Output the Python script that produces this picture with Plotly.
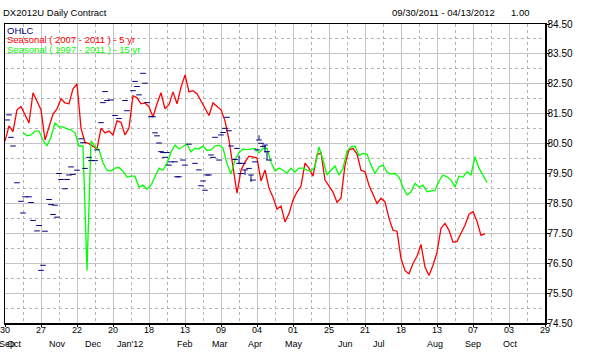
import plotly.graph_objects as go

# ---------------- text ----------------
title_left = "DX2012U Daily Contract"
title_range = "09/30/2011 - 04/13/2012"
title_scale = "1.00"
legend_texts = ["OHLC", "Seasonal ( 2007 - 2011 ) - 5 yr", "Seasonal ( 1997 - 2011 ) - 15 yr"]
legend_colors = ["#000080", "#FF0000", "#00FF00"]

# ---------------- axes ----------------
x_tick_bars = list(range(0, 271, 18))
x_tick_days = ["30", "27", "22", "20", "18", "13", "09", "04", "01",
               "25", "21", "18", "13", "07", "03", "29"]
month_labels = ["Sep", "Oct", "Nov", "Dec", "Jan'12", "Feb", "Mar", "Apr", "May",
                "Jun", "Jul", "Aug", "Sep", "Oct"]
month_bars = [1.0, 4.5, 26, 44, 62.5, 90, 107.5, 125, 144.5, 170, 187, 215, 234, 252.5]
y_ticks = [74.5, 75.5, 76.5, 77.5, 78.5, 79.5, 80.5, 81.5, 82.5, 83.5, 84.5]

# ---------------- seasonal 5 yr (every 2nd trading bar from bar 0) ----------------
red_bars = list(range(0, 241, 2))
red_vals = [80.58, 81.09, 80.90, 81.63, 81.74, 81.46, 81.19, 82.20, 81.91, 81.63,
            80.62, 81.09, 81.49, 81.66, 82.00, 81.86, 81.83, 82.33, 82.50, 81.02,
            80.54, 80.50, 80.40, 80.32, 81.02, 80.86, 80.92, 80.79, 81.26, 81.21,
            80.79, 81.02, 82.10, 82.03, 81.83, 81.86, 81.73, 81.39, 81.83, 82.20,
            81.66, 81.80, 82.23, 81.83, 82.38, 82.80, 82.23, 82.27, 82.17, 81.93,
            81.66, 81.44, 81.86, 81.74, 81.63, 81.26, 80.62, 79.72, 78.84, 79.61,
            79.88, 80.08, 80.05, 80.02, 79.25, 79.62, 79.01, 78.71, 78.31, 78.41,
            77.88, 78.16, 78.61, 78.88, 79.08, 79.85, 79.68, 79.41, 80.12, 80.19,
            79.28, 79.08, 78.88, 78.54, 78.68, 79.78, 80.29, 80.34, 80.15, 79.61,
            79.56, 79.11, 78.81, 78.50, 78.67, 78.55, 78.00, 77.60, 77.57, 76.66,
            76.25, 76.15, 76.49, 76.73, 77.13, 76.37, 76.09, 76.43, 76.86, 77.67,
            77.83, 77.60, 77.20, 77.23, 77.50, 77.77, 78.14, 78.22, 77.90, 77.43,
            77.49]

# ---------------- seasonal 15 yr (every 2nd trading bar from bar 9) ----------------
green_bars = list(range(9, 242, 2))
green_vals = [80.87, 80.76, 80.79, 80.92, 80.92, 80.62, 80.42, 80.72, 81.19, 81.06,
              81.06, 80.99, 80.96, 80.86, 80.42, 80.42, 76.26, 80.59, 80.40, 80.29,
              79.85, 79.61, 79.58, 79.68, 79.70, 79.58, 79.38, 79.41, 79.41, 79.04,
              79.11, 78.98, 79.11, 79.38, 79.68, 79.61, 79.85, 80.22, 80.45, 80.32,
              80.42, 80.49, 80.22, 80.35, 80.32, 80.42, 80.27, 80.29, 80.42, 80.45,
              80.35, 79.83, 79.48, 79.95, 80.20, 80.32, 80.30, 80.32, 80.34, 80.19,
              80.34, 80.35, 79.88, 79.58, 79.68, 79.61, 79.51, 79.68, 79.55, 79.68,
              79.68, 79.61, 79.58, 79.73, 80.39, 79.95, 79.45, 79.61, 79.75, 79.45,
              79.67, 80.25, 80.39, 80.42, 80.10, 80.17, 80.15, 79.78, 79.50, 79.72,
              79.78, 79.55, 79.48, 79.50, 79.38, 79.05, 78.78, 78.89, 79.17, 79.04,
              79.11, 78.89, 78.91, 78.94, 79.25, 79.45, 79.39, 79.28, 79.05, 79.41,
              79.38, 79.56, 79.45, 80.06, 79.68, 79.45, 79.20]

# ---------------- OHLC (contract prices; most days a single price) ----------------
ohlc_bar = [1, 2, 3, 4, 6, 8, 9, 10, 12, 13, 14, 16, 17, 18, 19, 20, 22, 23, 24, 25,
            26, 27, 28, 30, 31, 32, 33, 34, 36, 38, 39, 40, 42, 43, 45, 46, 48, 49, 50, 51,
            53, 55, 57, 60, 61, 64, 65, 66, 67, 69, 70, 71, 73, 74, 75, 76, 77, 78, 79, 80,
            81, 82, 83, 85, 86, 87, 89, 90, 92, 95, 97, 98, 99, 100, 101, 102, 103, 104, 105, 107,
            108, 109, 110, 111, 112, 113, 115, 116, 117, 118, 119, 120, 122, 123, 124, 125, 126, 127, 128, 129,
            130, 131, 132]
ohlc_close = [81.29, 81.46, 80.71, 80.42, 79.19, 78.57, 78.18, 78.72, 78.72, 78.53,
              77.93, 77.58, 77.76, 76.26, 76.43, 77.57, 78.63, 78.46, 78.13, 78.44,
              78.04, 79.50, 79.30, 78.99, 79.30, 79.45, 79.72, 79.47, 79.61, 80.66,
              80.53, 79.67, 80.04, 79.93, 79.93, 80.29, 81.20, 81.87, 82.24, 81.94,
              81.96, 81.44, 81.34, 81.94, 81.60, 82.27, 82.58, 82.41, 82.13, 82.85,
              82.52, 81.87, 81.40, 81.40, 80.86, 80.76, 80.52, 80.23, 80.20, 80.04,
              80.20, 79.78, 79.89, 79.89, 79.39, 79.39, 79.95, 79.78, 80.48, 79.84,
              79.62, 79.09, 79.25, 78.94, 79.45, 79.45, 80.12, 80.04, 80.71, 79.95,
              80.79, 80.87, 81.01, 81.38, 80.93, 80.42, 79.97, 80.34, 79.84, 79.50,
              79.84, 79.62, 79.67, 79.45, 79.28, 79.89, 80.29, 80.62, 80.51, 80.40,
              80.45, 80.23, 79.95]
ohlc_high = [81.29, 81.46, 80.71, 80.42, 79.19, 78.57, 78.18, 78.72, 78.72, 78.53,
             77.93, 77.58, 77.76, 76.26, 76.43, 77.57, 78.63, 78.46, 78.13, 78.44,
             78.04, 79.50, 79.30, 78.99, 79.30, 79.45, 79.72, 79.47, 79.61, 80.66,
             80.53, 79.67, 80.04, 79.93, 79.93, 80.29, 81.20, 81.87, 82.24, 81.94,
             81.96, 81.44, 81.34, 81.94, 81.60, 82.27, 82.58, 82.41, 82.13, 82.85,
             82.52, 81.87, 81.40, 81.40, 80.86, 80.76, 80.52, 80.23, 80.20, 80.04,
             80.20, 79.78, 79.89, 79.89, 79.39, 79.39, 79.95, 79.78, 80.48, 79.84,
             79.62, 79.09, 79.25, 78.94, 79.45, 79.45, 80.12, 80.04, 80.71, 79.95,
             80.79, 80.87, 81.01, 81.38, 80.93, 80.42, 79.97, 80.34, 80.10, 79.50,
             79.84, 79.62, 79.67, 79.45, 79.28, 79.89, 80.29, 80.78, 80.51, 80.40,
             80.45, 80.23, 79.95]
ohlc_low = [81.29, 81.46, 80.71, 80.42, 79.19, 78.57, 78.18, 78.72, 78.72, 78.53,
            77.93, 77.58, 77.76, 76.26, 76.43, 77.57, 78.63, 78.46, 78.13, 78.44,
            78.04, 79.50, 79.30, 78.99, 79.30, 79.45, 79.72, 79.47, 79.61, 80.66,
            80.53, 79.67, 80.04, 79.93, 79.93, 80.29, 81.20, 81.87, 82.24, 81.94,
            81.96, 81.44, 81.34, 81.94, 81.60, 82.27, 82.58, 82.41, 82.13, 82.85,
            82.52, 81.87, 81.40, 81.40, 80.86, 80.76, 80.52, 80.23, 80.20, 80.04,
            80.20, 79.78, 79.89, 79.89, 79.39, 79.39, 79.95, 79.78, 80.48, 79.84,
            79.62, 79.09, 79.25, 78.94, 79.45, 79.45, 80.12, 80.04, 80.71, 79.95,
            80.79, 80.87, 81.01, 81.38, 80.93, 80.42, 79.97, 80.34, 79.84, 79.50,
            79.84, 79.45, 79.67, 79.22, 79.28, 79.89, 80.29, 80.62, 80.51, 80.40,
            80.20, 79.95, 79.95]

FONT = "Liberation Sans, Arial, sans-serif"
NAVY = "#000080"

fig = go.Figure()
fig.add_trace(go.Scatter(x=red_bars, y=red_vals, mode="lines",
                         line=dict(color="#FF0000", width=1.3), showlegend=False,
                         name=legend_texts[1]))
fig.add_trace(go.Scatter(x=green_bars, y=green_vals, mode="lines",
                         line=dict(color="#00FF00", width=1.3), showlegend=False,
                         name=legend_texts[2]))
# OHLC bars: close tick as a short horizontal dash, high-low range as a vertical stroke
fig.add_trace(go.Scatter(
    x=ohlc_bar, y=ohlc_close, mode="markers", showlegend=False, name=legend_texts[0],
    marker=dict(symbol="line-ew", size=4, color=NAVY, line=dict(color=NAVY, width=1)),
    error_y=dict(type="data", symmetric=False,
                 array=[h - c for h, c in zip(ohlc_high, ohlc_close)],
                 arrayminus=[c - l for c, l in zip(ohlc_close, ohlc_low)],
                 width=0, thickness=1, color=NAVY),
))

grid_major = "#C4C4C4"
grid_minor = "#B4B4B4"

fig.update_layout(
    width=595, height=355,
    margin=dict(l=5, r=50, t=24, b=32, autoexpand=False),
    paper_bgcolor="white", plot_bgcolor="white",
    font=dict(family=FONT, size=10, color="black"),
    showlegend=False,
    xaxis=dict(
        range=[0, 270], tickmode="array", tickvals=x_tick_bars, ticktext=x_tick_days,
        showgrid=True, gridcolor=grid_major, gridwidth=1,
        minor=dict(tickmode="array", tickvals=[b + 9 for b in x_tick_bars[:-1]],
                   showgrid=True, gridcolor=grid_minor, griddash="dot", gridwidth=1),
        showline=True, linecolor="black", linewidth=1.5, mirror=True,
        ticks="outside", ticklen=2, tickcolor="black", automargin=False,
        ticklabelstandoff=-4, ticklabeloverflow="allow",
        zeroline=False, fixedrange=True,
        tickfont=dict(size=9, family=FONT),
    ),
    yaxis=dict(
        range=[74.5, 84.5], side="right", tickmode="array", tickvals=y_ticks,
        ticktext=[f"{v:.2f}" for v in y_ticks],
        showgrid=True, gridcolor=grid_major, gridwidth=1,
        minor=dict(tickmode="array", tickvals=[v + 0.5 for v in y_ticks[:-1]],
                   showgrid=True, gridcolor=grid_minor, griddash="dot", gridwidth=1),
        showline=True, linecolor="black", linewidth=1.5, mirror=True,
        ticks="outside", ticklen=3, tickcolor="black", zeroline=False, automargin=False,
        ticklabelstandoff=-4, ticklabeloverflow="allow", fixedrange=True,
        tickfont=dict(size=10, family=FONT),
    ),
)

ann = []
ann.append(dict(text=title_left, xref="paper", yref="paper", x=0, y=1, xanchor="left",
                yanchor="middle", xshift=-4, yshift=12, showarrow=False,
                font=dict(size=9.5, color="black")))
ann.append(dict(text=title_range, xref="paper", yref="paper", x=0.912, y=1, xanchor="right",
                yanchor="middle", yshift=12, showarrow=False, font=dict(size=9.5, color="black")))
ann.append(dict(text=title_scale, xref="paper", yref="paper", x=0.934, y=1, xanchor="left",
                yanchor="middle", yshift=12, showarrow=False, font=dict(size=9.5, color="black")))
for i, (t, c) in enumerate(zip(legend_texts, legend_colors)):
    ann.append(dict(text=t, xref="paper", yref="paper", x=0.006, y=1, xanchor="left",
                    yanchor="middle", xshift=-3, yshift=-6 - 9.5 * i, showarrow=False,
                    font=dict(size=9.5, color=c)))
for m, b in zip(month_labels, month_bars):
    ann.append(dict(text=m, xref="x", yref="paper", x=b, y=0, xanchor="center",
                    yanchor="middle", yshift=-20.5, showarrow=False,
                    font=dict(size=9, color="black")))
fig.update_layout(annotations=ann)

fig.write_html("out.html", config={"displayModeBar": False, "staticPlot": True},
               post_script="document.body.style.margin='0px';")
